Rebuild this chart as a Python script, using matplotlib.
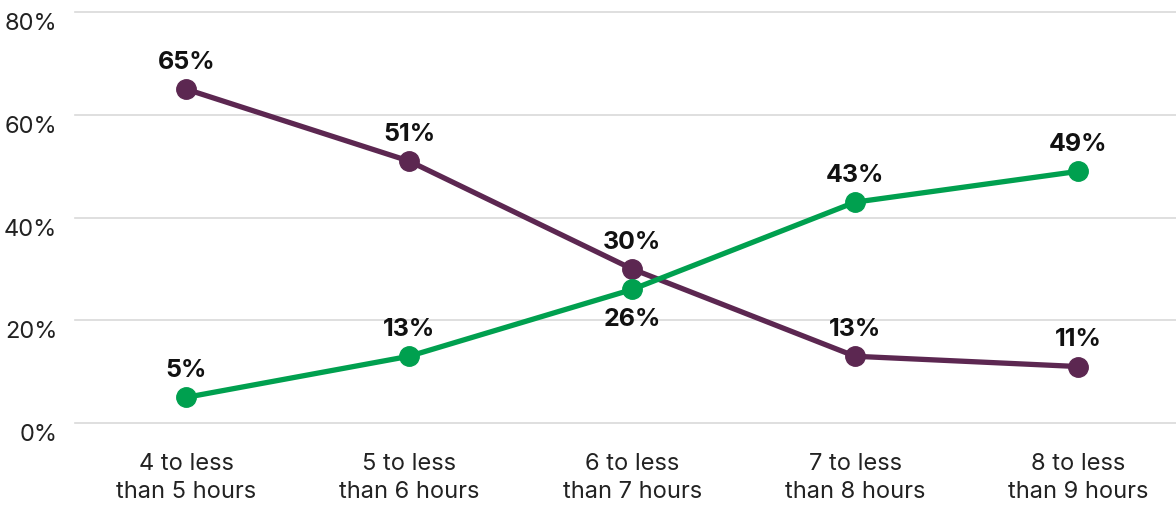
import matplotlib
matplotlib.use("Agg")
import matplotlib.pyplot as plt

categories = ["4 to less\nthan 5 hours", "5 to less\nthan 6 hours", "6 to less\nthan 7 hours",
              "7 to less\nthan 8 hours", "8 to less\nthan 9 hours"]
purple_vals = [65, 51, 30, 13, 11]
green_vals = [5, 13, 26, 43, 49]
yticks = [0, 20, 40, 60, 80]
ytick_labels = ["0%", "20%", "40%", "60%", "80%"]

plt.rcParams['font.family'] = ['Inter', 'DejaVu Sans']

fig = plt.figure(figsize=(11.76, 5.06), dpi=100)
ax = fig.add_axes([0.064, 0.162, 0.936, 0.812])

purple = "#5C2751"
green = "#00A04F"
x = list(range(len(categories)))

for yt in yticks:
    ax.axhline(yt, color="#d9d9d9", lw=1.2, zorder=1, clip_on=False)

ax.plot(x, purple_vals, color=purple, lw=3.8, marker="o", ms=14, zorder=3, solid_capstyle="round")
ax.plot(x, green_vals, color=green, lw=3.8, marker="o", ms=14, zorder=4, solid_capstyle="round")

for xi, v in zip(x, purple_vals):
    ax.annotate(f"{v}%", (xi, v), xytext=(0, 20), textcoords="offset points",
                ha="center", va="center", fontsize=18, fontweight="bold", color="#111111")
for xi, v in zip(x, green_vals):
    off = -21 if xi == 2 else 20
    ax.annotate(f"{v}%", (xi, v), xytext=(0, off), textcoords="offset points",
                ha="center", va="center", fontsize=18, fontweight="bold", color="#111111")

ax.set_xlim(-0.498, 4.44)
ax.set_ylim(0, 80)
ax.set_yticks(yticks)
ax.set_yticklabels(ytick_labels)
ax.set_xticks(x)
ax.set_xticklabels(categories, linespacing=1.35)
for s in ax.spines.values():
    s.set_visible(False)
ax.tick_params(axis="both", length=0, labelsize=17, colors="#222222")
ax.tick_params(axis="y", pad=13)
ax.tick_params(axis="x", pad=21)
for lbl in ax.get_yticklabels():
    lbl.set_verticalalignment("top")

fig.savefig("out.png", dpi=100)
